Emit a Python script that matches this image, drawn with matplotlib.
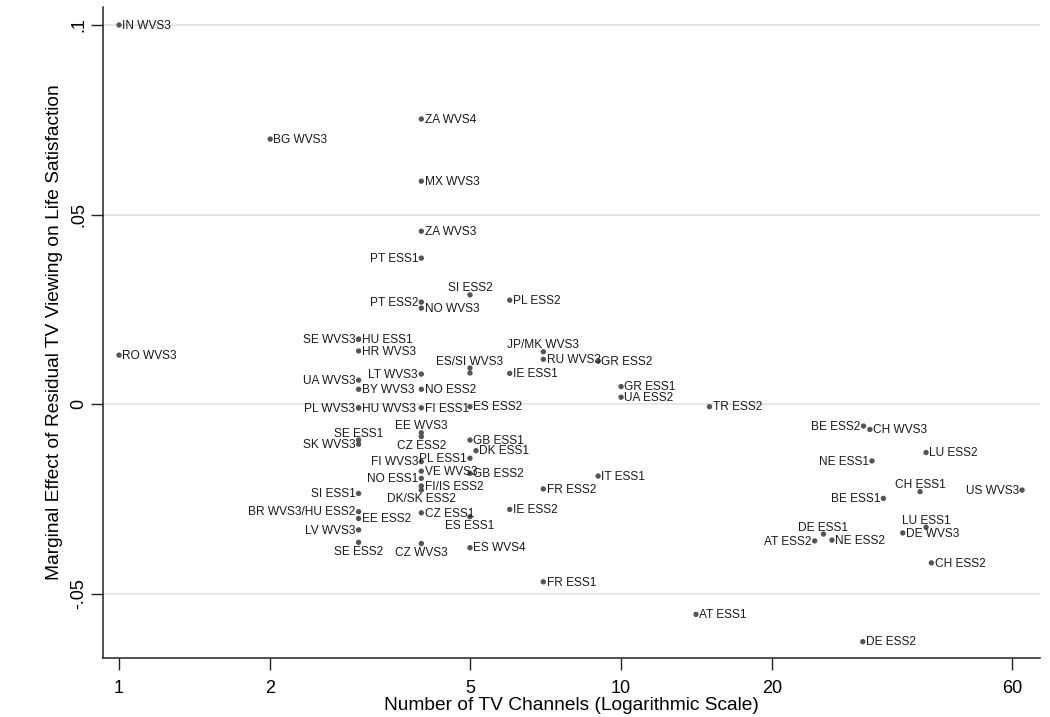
"""
Scatter of the marginal effect of residual TV viewing on life satisfaction
against the number of TV channels (log scale), one labelled dot per survey.
"""

import numpy as np
import matplotlib
matplotlib.use("Agg")
import matplotlib.pyplot as plt

# ---------------------------------------------------------------------------
# Data
# ---------------------------------------------------------------------------
surveys = [
    "IN WVS3", "BG WVS3", "ZA WVS4", "MX WVS3", "ZA WVS3", "PT ESS1",
    "SI ESS2", "PT ESS2", "NO WVS3", "PL ESS2", "SE WVS3", "HU ESS1",
    "HR WVS3", "RO WVS3", "JP/MK WVS3", "RU WVS3", "GR ESS2", "ES/SI WVS3",
    "", "LT WVS3", "IE ESS1", "UA WVS3", "BY WVS3", "NO ESS2",
    "GR ESS1", "UA ESS2", "PL WVS3", "HU WVS3", "FI ESS1", "ES ESS2",
    "TR ESS2", "EE WVS3", "CZ ESS2", "SE ESS1", "SK WVS3", "GB ESS1",
    "DK ESS1", "PL ESS1", "FI WVS3", "VE WVS3", "GB ESS2", "NO ESS1",
    "FI/IS ESS2", "DK/SK ESS2", "SI ESS1", "FR ESS2", "IT ESS1", "IE ESS2",
    "BR WVS3/HU ESS2", "EE ESS2", "CZ ESS1", "ES ESS1", "LV WVS3", "SE ESS2",
    "CZ WVS3", "ES WVS4", "FR ESS1", "AT ESS1", "DE ESS2", "BE ESS2",
    "CH WVS3", "LU ESS2", "NE ESS1", "CH ESS1", "US WVS3", "BE ESS1",
    "LU ESS1", "DE WVS3", "DE ESS1", "AT ESS2", "NE ESS2", "CH ESS2",
]

channels = [
    1, 2, 4, 4, 4, 4,
    5, 4, 4, 6, 3, 3,
    3, 1, 7, 7, 9, 5,
    5, 4, 6, 3, 3, 4,
    10, 10, 3, 3, 4, 5,
    15, 4, 4, 3, 3, 5,
    5.14, 5, 4, 4, 5, 4,
    4, 4, 3, 7, 9, 6,
    3, 3, 4, 5, 3, 3,
    4, 5, 7, 14.1, 30.3, 30.4,
    31.3, 40.5, 31.6, 39.4, 62.9, 33.3,
    40.5, 36.4, 25.3, 24.3, 26.3, 41.5,
]

effects = [
    0.1000, 0.0699, 0.0752, 0.0588, 0.0456, 0.0385,
    0.0288, 0.0269, 0.0253, 0.0274, 0.0171, 0.0171,
    0.0140, 0.0129, 0.0138, 0.0118, 0.0113, 0.0095,
    0.0082, 0.0079, 0.0081, 0.0063, 0.0039, 0.0039,
    0.0046, 0.0018, -0.0010, -0.0010, -0.0010, -0.0007,
    -0.0007, -0.0076, -0.0086, -0.0095, -0.0106, -0.0095,
    -0.0123, -0.0143, -0.0152, -0.0177, -0.0183, -0.0196,
    -0.0216, -0.0227, -0.0236, -0.0224, -0.0190, -0.0278,
    -0.0284, -0.0302, -0.0287, -0.0297, -0.0332, -0.0365,
    -0.0368, -0.0379, -0.0469, -0.0555, -0.0627, -0.0058,
    -0.0067, -0.0128, -0.0150, -0.0231, -0.0227, -0.0249,
    -0.0325, -0.0340, -0.0343, -0.0361, -0.0359, -0.0419,
]

x_ticks = [1, 2, 5, 10, 20, 60]
y_ticks = [-0.05, 0, 0.05, 0.1]
y_tick_labels = ["-.05", "0", ".05", ".1"]

# label placement (clock positions, as in Stata's mlabposition); default 3
LABEL_POS = {
    "PT ESS1": 9, "SI ESS2": 12, "PT ESS2": 9, "SE WVS3": 9,
    "JP/MK WVS3": 12, "ES/SI WVS3": 12, "LT WVS3": 9, "UA WVS3": 9,
    "PL WVS3": 9, "EE WVS3": 12, "CZ ESS2": 6, "SE ESS1": 12,
    "SK WVS3": 9, "PL ESS1": 9, "FI WVS3": 9, "NO ESS1": 9,
    "DK/SK ESS2": 6, "SI ESS1": 9, "BR WVS3/HU ESS2": 9, "ES ESS1": 6,
    "LV WVS3": 9, "SE ESS2": 6, "CZ WVS3": 6, "BE ESS2": 9,
    "NE ESS1": 9, "CH ESS1": 12, "US WVS3": 9, "BE ESS1": 9,
    "LU ESS1": 12, "DE ESS1": 12, "AT ESS2": 9,
}
OFFSETS = {
    3:  dict(xytext=(2.3, -0.5), ha="left",   va="center"),
    9:  dict(xytext=(-2.3, -0.5), ha="right", va="center"),
    12: dict(xytext=(0, 0.3),    ha="center", va="bottom"),
    6:  dict(xytext=(0, -2.3),   ha="center", va="top"),
}

plt.rcParams["font.family"] = ["Liberation Sans", "DejaVu Sans"]

W, H = 1050, 717
fig = plt.figure(figsize=(W / 100, H / 100), dpi=100)
left, right, top, bottom = 103, 1040, 7, 658
ax = fig.add_axes([left / W, 1 - bottom / H, (right - left) / W, (bottom - top) / H])

# horizontal grid at the y ticks
for yv in y_ticks:
    ax.axhline(yv, color="#e4e4e4", lw=1.3, zorder=0)

ax.scatter(channels, effects, s=15, color="#555555", edgecolors="none", zorder=3)

for name, cx, ey in zip(surveys, channels, effects):
    if not name:
        continue
    opts = OFFSETS[LABEL_POS.get(name, 3)]
    ax.annotate(name, (cx, ey), textcoords="offset points", fontsize=8.6,
                color="#1a1a1a", zorder=4, **opts)

ax.set_xscale("log")
ax.set_xlim(0.929, 68.3)
ax.set_ylim(-0.0670, 0.10475)
ax.set_xticks(x_ticks)
ax.set_xticklabels([str(t) for t in x_ticks])
ax.minorticks_off()
ax.set_yticks(y_ticks)
ax.set_yticklabels(y_tick_labels, rotation=90, va="center")

ax.tick_params(axis="both", direction="out", length=8.5, width=1.0,
               labelsize=13, color="#222222")
ax.tick_params(axis="x", pad=7.5)
ax.tick_params(axis="y", pad=3)

for side in ("top", "right"):
    ax.spines[side].set_visible(False)
for side in ("left", "bottom"):
    ax.spines[side].set_linewidth(1.1)
    ax.spines[side].set_color("#222222")

ax.set_xlabel("Number of TV Channels (Logarithmic Scale)", fontsize=13.8)
ax.set_ylabel("Marginal Effect of Residual TV Viewing on Life Satisfaction",
              fontsize=13.8)
ax.xaxis.set_label_coords(0.5, (bottom - 697) / (bottom - top))
ax.yaxis.set_label_coords((63 - left) / (right - left), 0.5)

fig.savefig("out.png", dpi=100, facecolor="white")
